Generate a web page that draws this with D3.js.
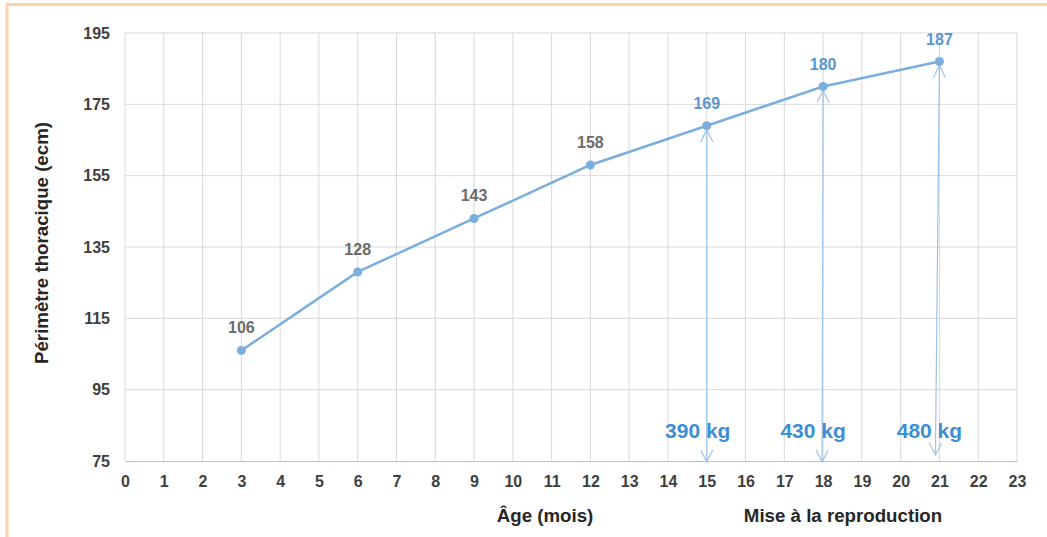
<!DOCTYPE html>
<html>
<head>
<meta charset="utf-8">
<script src="https://cdn.jsdelivr.net/npm/d3@7"></script>
<style>
  html, body { margin: 0; padding: 0; background: #fff; }
  svg { display: block; font-family: "Liberation Sans", Arial, sans-serif; }
</style>
</head>
<body>
<svg id="chart" width="1047" height="537"></svg>
<script>
// Growth of chest girth with age
const ages = [3, 6, 9, 12, 15, 18, 21];
const girth = [106, 128, 143, 158, 169, 180, 187];
const highlighted = [15, 18, 21];          // ages at breeding
const weights = ["390 kg", "430 kg", "480 kg"];
const xTicks = d3.range(0, 24);
const yTicks = [75, 95, 115, 135, 155, 175, 195];

const svg = d3.select("#chart");
const W = 1047, H = 537;
const m = { left: 125, right: 1017, top: 33, bottom: 461 };

const x = d3.scaleLinear().domain([0, 23]).range([m.left, m.right]);
const y = d3.scaleLinear().domain([75, 195]).range([m.bottom, m.top]);

// frame edges
svg.append("line").attr("x1", 6).attr("x2", W).attr("y1", 4.5).attr("y2", 4.5)
  .attr("stroke", "#fcd2ad").attr("stroke-width", 3);
svg.append("line").attr("x1", 7).attr("x2", 7).attr("y1", 3).attr("y2", H)
  .attr("stroke", "#fcd2ad").attr("stroke-width", 3);

// grid
const grid = svg.append("g");
grid.selectAll("line.v").data(xTicks).join("line")
  .attr("x1", d => x(d)).attr("x2", d => x(d))
  .attr("y1", m.top).attr("y2", m.bottom)
  .attr("stroke", "#d9d9d9").attr("stroke-width", 1);
grid.selectAll("line.h").data(yTicks.slice(1)).join("line")
  .attr("x1", m.left).attr("x2", m.right)
  .attr("y1", d => y(d)).attr("y2", d => y(d))
  .attr("stroke", "#d9d9d9").attr("stroke-width", 1);

// axes
const xAxis = svg.append("g").attr("transform", `translate(0,${m.bottom})`)
  .call(d3.axisBottom(x).tickValues(xTicks).tickSize(0).tickPadding(15).tickFormat(d3.format("d")));
xAxis.select(".domain").attr("stroke", "#bfbfbf");
const yAxis = svg.append("g").attr("transform", `translate(${m.left},0)`)
  .call(d3.axisLeft(y).tickValues(yTicks).tickSize(0).tickPadding(15));
yAxis.select(".domain").remove();
svg.selectAll(".tick text")
  .attr("font-size", 16).attr("font-weight", "bold").attr("fill", "#404040")
  .attr("font-family", "'Liberation Sans', Arial, sans-serif");

// axis titles
svg.append("text").attr("x", 545).attr("y", 522).attr("text-anchor", "middle")
  .attr("font-size", 18.7).attr("font-weight", "bold").attr("fill", "#262626")
  .text("Âge (mois)");
svg.append("text").attr("x", 843).attr("y", 522).attr("text-anchor", "middle")
  .attr("font-size", 18.7).attr("font-weight", "bold").attr("fill", "#262626")
  .text("Mise à la reproduction");
svg.append("text").attr("transform", `translate(48,243) rotate(-90)`)
  .attr("text-anchor", "middle")
  .attr("font-size", 18.7).attr("font-weight", "bold").attr("fill", "#262626")
  .text("Périmètre thoracique (ecm)");

// arrows from the curve down to the axis at breeding ages
const arrowColor = "#9cc3e8";
const data = ages.map((a, i) => ({ age: a, v: girth[i] }));
const hi = data.filter(d => highlighted.includes(d.age));
const head = (px, py, dir) => `M${px - 6},${py - dir * 12}L${px},${py}L${px + 6},${py - dir * 12}`;
hi.forEach((d, i) => {
  const x0 = x(d.age), y0 = y(d.v) + 4;
  const lean = i === 2 ? -4 : (i === 1 ? -1 : 0);
  const x1 = x0 + lean, y1 = i === 2 ? m.bottom - 6 : m.bottom + 1;
  svg.append("line").attr("x1", x0).attr("y1", y0).attr("x2", x1).attr("y2", y1)
    .attr("stroke", arrowColor).attr("stroke-width", 1.2);
  svg.append("path").attr("d", head(x0, y0, -1)).attr("fill", "none")
    .attr("stroke", arrowColor).attr("stroke-width", 1.2);
  svg.append("path").attr("d", head(x1, y1, 1)).attr("fill", "none")
    .attr("stroke", arrowColor).attr("stroke-width", 1.2);
});

// line + markers
const lineColor = "#7aaede";
svg.append("path").datum(data)
  .attr("d", d3.line().x(d => x(d.age)).y(d => y(d.v)))
  .attr("fill", "none").attr("stroke", lineColor).attr("stroke-width", 2.5);
svg.selectAll("circle.pt").data(data).join("circle")
  .attr("cx", d => x(d.age)).attr("cy", d => y(d.v)).attr("r", 4.5)
  .attr("fill", lineColor);

// value labels
svg.selectAll("text.val").data(data).join("text")
  .attr("x", d => x(d.age)).attr("y", d => y(d.v) - 17)
  .attr("text-anchor", "middle")
  .attr("font-size", 16).attr("font-weight", "bold")
  .attr("fill", d => highlighted.includes(d.age) ? "#5b95cf" : "#6b6b6b")
  .text(d => d.v);

// weight labels
svg.selectAll("text.kg").data(hi).join("text")
  .attr("x", (d, i) => x(d.age) - [9, 10, 10][i]).attr("y", 438)
  .attr("text-anchor", "middle")
  .attr("font-size", 21).attr("font-weight", "bold").attr("fill", "#3d8fd1")
  .text((d, i) => weights[i]);
</script>
</body>
</html>
